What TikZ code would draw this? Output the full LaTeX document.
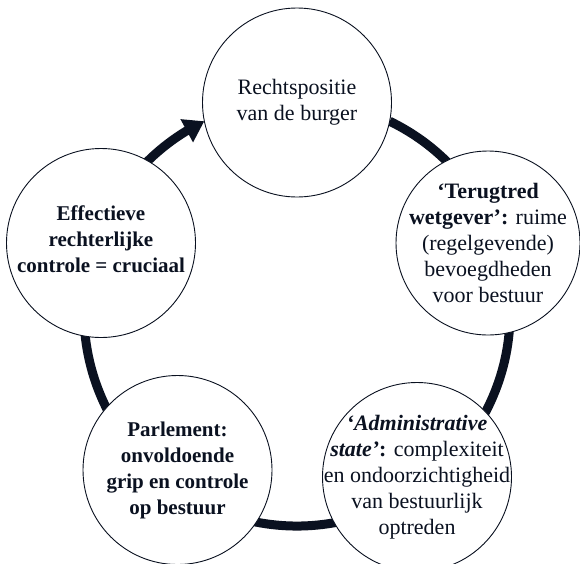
\documentclass[tikz,border=0pt]{standalone}
\usepackage{fontspec}
\setmainfont{Liberation Serif}
\usetikzlibrary{arrows.meta,bending}
\definecolor{ink}{RGB}{10,17,32}
\tikzset{
  bubble/.style={circle,draw=ink,line width=0.9pt,fill=white,minimum size=189pt,inner sep=0pt},
  txt/.style={align=center,text=ink,inner sep=0pt,font=\fontsize{22}{26}\selectfont},
  boldtxt/.style={txt,font=\fontsize{21}{26}\selectfont\bfseries},
  ring/.style={draw=ink,line width=9pt},
}
\begin{document}
\begin{tikzpicture}[x=1pt,y=1pt]
\useasboundingbox (0,0) rectangle (580,-563);
\coordinate (ringc) at (297,-313);
\draw[ring,-{Triangle[length=20pt,width=25pt]}] (ringc) ++(64.2:213) arc[start angle=64.2,end angle=-244.2,radius=213];
\node[bubble] (top) at (297,-102.5) {};
\node[bubble,minimum size=184pt] (right) at (488,-243) {};
\node[bubble] (bright) at (417,-477) {};
\node[bubble] (bleft) at (177.5,-470) {};
\node[bubble] (left) at (101,-243) {};
\node[txt] (toptxt) at (top) {Rechtspositie\\van de burger};
\node[txt] (righttxt) at (right) {\textbf{‘Terugtred}\\\textbf{wetgever’:} ruime\\(regelgevende)\\bevoegdheden\\voor bestuur};
\node[txt] (brighttxt) at (bright) {\textbf{\textit{‘Administrative}}\\\textbf{\textit{state’}:} complexiteit\\en ondoorzichtigheid\\van bestuurlijk\\optreden};
\node[boldtxt] (blefttxt) at (bleft) {Parlement:\\onvoldoende\\grip en controle\\op bestuur};
\node[boldtxt] (lefttxt) at ([yshift=4pt]left.center) {Effectieve\\rechterlijke\\controle = cruciaal};
\end{tikzpicture}
\end{document}
